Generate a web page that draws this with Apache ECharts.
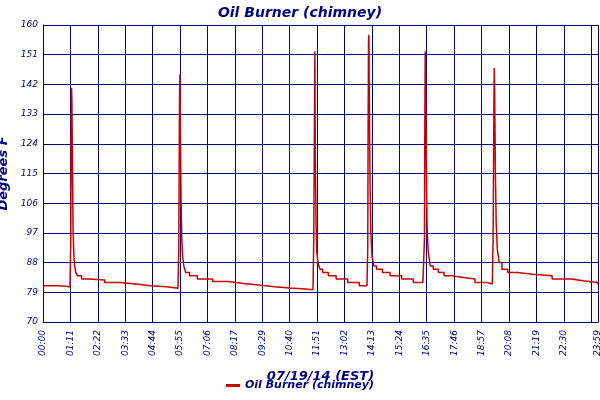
<!DOCTYPE html><html><head><meta charset="utf-8">
<script src="https://cdn.jsdelivr.net/npm/echarts@6/dist/echarts.min.js"></script>
<style>html,body{margin:0;background:#fff}#c{width:600px;height:400px}</style></head><body><div id="c"></div>
<script>
const minutes = [0,20,40,60,70,72,73,74,75,76,77,78,80,82,85,90,100,120,160,200,240,280,320,350,352,354,355,356,357,358,360,362,365,370,380,400,440,480,520,560,600,640,680,700,702,704,705,706,708,710,713,718,725,740,760,790,820,840,842,843,844,845,846,848,850,853,858,865,880,900,930,960,985,987,989,990,991,992,994,996,999,1004,1012,1025,1040,1060,1090,1120,1150,1165,1167,1169,1170,1171,1173,1175,1178,1183,1190,1205,1230,1270,1320,1370,1400,1439];
const temps = [81,81,80.8,80.6,80.5,95,124,141,137,122,110,98,90,87,85,84,83,82.7,82,81.5,81,80.7,80.2,80,92,138,145,132,118,107,95,90,87,85,84,83,82.3,81.7,81.2,80.7,80.3,80,79.8,79.5,95,135,152,120,100,91,88,86,85,84,83,82,81,80.8,92,130,155,157,140,112,97,90,87,86,85,84,83,82,81.5,81.5,95,130,152,145,115,98,91,87,86,85,84,83.5,83,82,81.5,81.3,95,133,147,140,115,100,92,88,86,85,84.5,84,83,82.5,82,81.3,81];
const yTicks = [70,79,88,97,106,115,124,133,142,151,160];
const seriesName = 'Oil Burner (chimney)';
const pad = n => String(n).padStart(2,'0');
const fmt = v => { v = Math.round(v); return pad(Math.floor(v/60)) + ':' + pad(v%60); };
const navy = '#000080';
const chart = echarts.init(document.getElementById('c'));
chart.setOption({
  animation:false,
  title:{text:'Oil Burner (chimney)',left:'center',top:1,textStyle:{color:navy,fontStyle:'italic',fontWeight:'bold',fontSize:14,fontFamily:'DejaVu Sans'}},
  legend:{bottom:4,left:'center',icon:'rect',itemWidth:14,itemHeight:3,textStyle:{color:navy,fontStyle:'italic',fontWeight:'bold',fontSize:11,fontFamily:'DejaVu Sans'},data:[seriesName]},
  grid:{left:43,right:2,top:25,bottom:78,outerBoundsMode:'none',containLabel:false},
  xAxis:{type:'value',min:0,max:1439,interval:71.07,name:'07/19/14 (EST)',nameLocation:'middle',nameGap:48,
    nameTextStyle:{color:navy,fontStyle:'italic',fontWeight:'bold',fontSize:13,fontFamily:'DejaVu Sans'},
    axisLine:{lineStyle:{color:navy,width:1}},axisTick:{show:false},
    splitLine:{lineStyle:{color:navy,width:1}},
    axisLabel:{rotate:90,color:navy,fontStyle:'italic',fontSize:9,fontFamily:'DejaVu Sans',formatter:v=>fmt(v),showMaxLabel:true}},
  yAxis:{type:'value',min:70,max:160,interval:9,name:'Degrees F',nameLocation:'middle',nameGap:30,
    nameTextStyle:{color:navy,fontStyle:'italic',fontWeight:'bold',fontSize:13,fontFamily:'DejaVu Sans'},
    axisLine:{show:true,lineStyle:{color:navy}},axisTick:{show:false},
    splitLine:{lineStyle:{color:navy,width:1}},
    axisLabel:{color:navy,fontStyle:'italic',fontSize:9,margin:5,fontFamily:'DejaVu Sans',customValues:yTicks}},
  series:[{name:seriesName,type:'line',step:'end',showSymbol:false,color:'#cc0000',lineStyle:{width:1.5,color:'#cc0000'},
    data:minutes.map((m,i)=>[m,temps[i]])}]
});
</script></body></html>
